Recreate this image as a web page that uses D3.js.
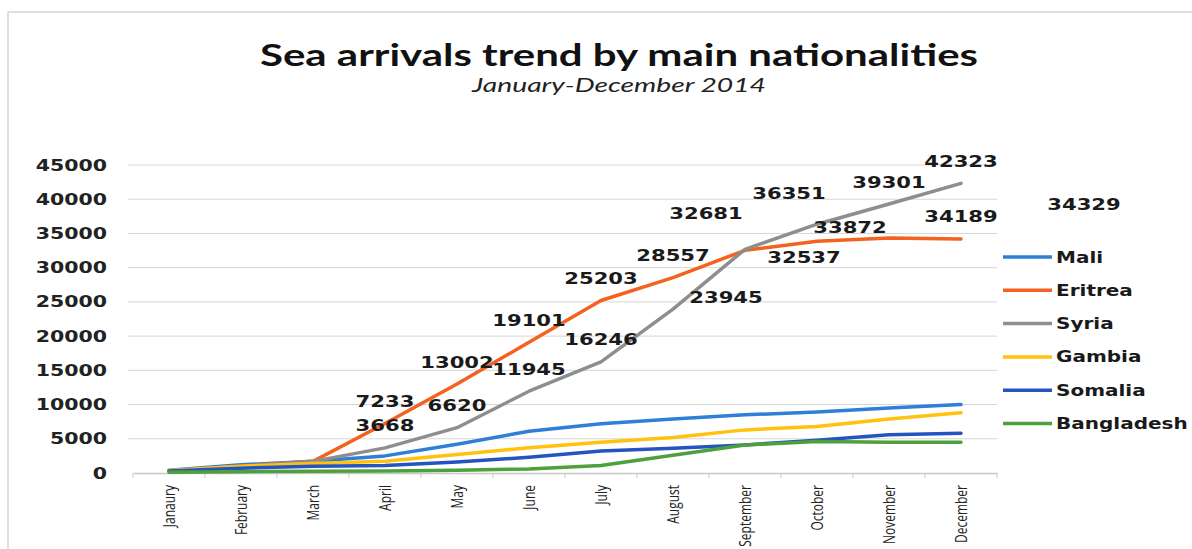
<!DOCTYPE html>
<html>
<head>
<meta charset="utf-8">
<script src="https://cdn.jsdelivr.net/npm/d3@7"></script>
<style>
  body { margin: 0; background: #fff; }
  svg { display: block; }
</style>
</head>
<body>
<svg id="chart"></svg>
<script>
const months = ["Janaury", "February", "March", "April", "May", "June", "July",
  "August", "September", "October", "November", "December"]

const mali       = [400, 1200, 1700, 2500, 4200, 6100, 7200, 7900, 8500, 8900, 9500, 10000]
const eritrea    = [300, 1000, 1700, 7233, 13002, 19101, 25203, 28557, 32537, 33872, 34329, 34189]
const syria      = [300, 900, 1700, 3668, 6620, 11945, 16246, 23945, 32681, 36351, 39301, 42323]
const gambia     = [350, 1000, 1400, 1700, 2700, 3700, 4500, 5200, 6300, 6800, 7900, 8800]
const somalia    = [300, 700, 1000, 1100, 1600, 2300, 3200, 3600, 4100, 4800, 5600, 5800]
const bangladesh = [100, 200, 250, 300, 400, 600, 1100, 2600, 4100, 4600, 4500, 4500]

const seriesNames = ["Mali", "Eritrea", "Syria", "Gambia", "Somalia", "Bangladesh"]
const yTicks = [0, 5000, 10000, 15000, 20000, 25000, 30000, 35000, 40000, 45000]

// data labels only on Eritrea and Syria, from April on
const labelledSeries = ["Eritrea", "Syria"]
const firstLabelled = 3

const series = [
  { name: "Mali", values: mali, color: "#2f7ed8" },
  { name: "Eritrea", values: eritrea, color: "#f4621f" },
  { name: "Syria", values: syria, color: "#8e8e8e" },
  { name: "Gambia", values: gambia, color: "#ffc20e" },
  { name: "Somalia", values: somalia, color: "#2454c0" },
  { name: "Bangladesh", values: bangladesh, color: "#4ea03c" },
]

// hand-placed labels in the original (dx, dy from the default spot)
const labelNudge = {
  "Eritrea-8": [59, 29], "Eritrea-9": [33, 8], "Eritrea-10": [195, -12],
  "Syria-7": [53, 10], "Syria-8": [-39, -14], "Syria-9": [-28, -9],
}

const W = 1192, H = 549
const stretch = 1.28   // the source picture is wider than tall

const svg = d3.select("#chart").attr("width", W).attr("height", H)

function widen(sel, f) {
  sel.each(function () {
    const len = this.getComputedTextLength()
    d3.select(this).attr("textLength", len * f).attr("lengthAdjust", "spacingAndGlyphs")
  })
}
function fitTo(sel, w) {
  sel.attr("textLength", w).attr("lengthAdjust", "spacingAndGlyphs")
}

// scanned frame
svg.append("path")
  .attr("d", "M8,549 V12 H1192")
  .attr("fill", "none")
  .attr("stroke", "#d4d4d4")
  .attr("stroke-width", 1.5)

const x = d3.scaleBand().domain(months).range([133, 997]).paddingInner(0).paddingOuter(0)
const y = d3.scaleLinear().domain([0, 45000]).range([473, 165])
const cx = m => x(m) + x.bandwidth() / 2

// title
svg.append("text")
  .attr("x", 619).attr("y", 66)
  .attr("text-anchor", "middle")
  .attr("font-family", "Lato, 'Open Sans', sans-serif")
  .attr("font-weight", "bold")
  .attr("font-size", 31)
  .attr("fill", "#111")
  .text("Sea arrivals trend by main nationalities")
  .call(fitTo, 718)

svg.append("text")
  .attr("x", 619).attr("y", 92)
  .attr("text-anchor", "middle")
  .attr("font-family", "Lato, 'Open Sans', sans-serif")
  .attr("font-style", "italic")
  .attr("font-size", 19)
  .attr("fill", "#222")
  .text("January-December 2014")
  .call(fitTo, 294)

// grid + y labels
const yAxis = svg.append("g")
yAxis.selectAll("line").data(yTicks.filter(d => d > 0)).join("line")
  .attr("x1", 128).attr("x2", 997)
  .attr("y1", d => y(d)).attr("y2", d => y(d))
  .attr("stroke", "#d6d6d6").attr("stroke-width", 1)

yAxis.selectAll("text").data(yTicks).join("text")
  .attr("x", 107).attr("y", d => y(d))
  .attr("text-anchor", "end")
  .attr("dominant-baseline", "central")
  .attr("font-family", "'DejaVu Sans', sans-serif")
  .attr("font-weight", "bold")
  .attr("font-size", 16)
  .attr("fill", "#222")
  .text(d => d)
  .call(widen, stretch)

// x axis
const xAxis = svg.append("g").attr("transform", "translate(0,473)")
  .call(d3.axisBottom(x).tickSize(0).tickPadding(12))
xAxis.select(".domain").attr("stroke", "#c8c8c8").attr("stroke-width", 1.5)
xAxis.selectAll(".tick text")
  .attr("transform", "rotate(-90) scale(1,1.35)")
  .attr("text-anchor", "end")
  .attr("dy", "0.35em")
  .attr("x", -12).attr("y", 0)
  .attr("font-family", "'Open Sans', sans-serif")
  .attr("font-size", 12)
  .attr("fill", "#222")
xAxis.selectAll(".bound").data(months.concat(["_end"])).join("line")
  .attr("class", "bound")
  .attr("x1", (d, i) => i < months.length ? x(d) : x.range()[1])
  .attr("x2", (d, i) => i < months.length ? x(d) : x.range()[1])
  .attr("y1", 0).attr("y2", 5)
  .attr("stroke", "#c8c8c8")

// lines
const line = d3.line()
  .x((d, i) => cx(months[i]))
  .y(d => y(d))

svg.append("g").selectAll("path").data(series).join("path")
  .attr("d", d => line(d.values))
  .attr("fill", "none")
  .attr("stroke", d => d.color)
  .attr("stroke-width", 3.5)
  .attr("stroke-linejoin", "round")
  .attr("stroke-linecap", "round")

// data labels
const labels = []
series.filter(s => labelledSeries.includes(s.name)).forEach(s => {
  s.values.forEach((v, i) => {
    if (i < firstLabelled) return
    const n = labelNudge[s.name + "-" + i] || [0, 0]
    labels.push({ v, px: cx(months[i]) + n[0], py: y(v) - 22 + n[1] })
  })
})

svg.append("g").selectAll("text").data(labels).join("text")
  .attr("x", d => d.px).attr("y", d => d.py)
  .attr("text-anchor", "middle")
  .attr("dominant-baseline", "central")
  .attr("font-family", "'DejaVu Sans', sans-serif")
  .attr("font-weight", "bold")
  .attr("font-size", 16.5)
  .attr("fill", "#1a1a1a")
  .text(d => d.v)
  .call(widen, stretch)

// legend
const legend = svg.append("g").attr("transform", "translate(1003,257)")
const item = legend.selectAll("g").data(series).join("g")
  .attr("transform", (d, i) => `translate(0,${i * 33.3})`)
item.append("line")
  .attr("x1", 0).attr("x2", 49)
  .attr("stroke", d => d.color).attr("stroke-width", 3.5)
item.append("text")
  .attr("x", 53).attr("y", 0)
  .attr("dominant-baseline", "central")
  .attr("font-family", "'DejaVu Sans', sans-serif")
  .attr("font-weight", "bold")
  .attr("font-size", 16)
  .attr("fill", "#1a1a1a")
  .text(d => d.name)
  .call(widen, 1.25)
</script>
</body>
</html>
